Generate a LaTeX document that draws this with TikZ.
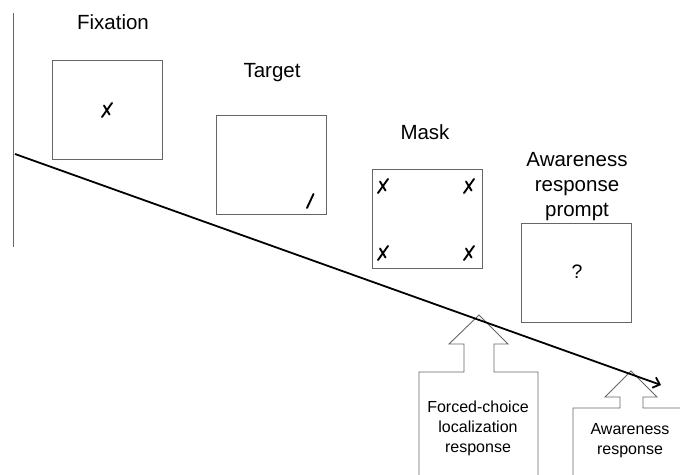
\documentclass[tikz,border=0pt]{standalone}
\usepackage{fontspec}
\setmainfont{Liberation Sans}
\usetikzlibrary{arrows.meta}

\tikzset{
    xsign/.pic={
        \draw[xmark] (-5,7) -- (5,-7);
        \draw[xmark] (-3,-4.5) -- (2.5,4.5);
    }
}

\begin{document}
\begin{tikzpicture}[
    x=1pt, y=-1pt,
    frame/.style={rectangle, draw=black!60, line width=0.9pt, minimum width=110pt, minimum height=99pt, inner sep=0pt},
    lbl/.style={font=\fontsize{20.5}{25}\selectfont, align=center, inner sep=0pt},
    resp/.style={font=\fontsize{16}{20}\selectfont, align=center, inner sep=0pt},
    blockarrow/.style={draw=black!60, line width=0.9pt, fill=white},
    xmark/.style={line width=1.9pt, line cap=round},
]
\clip (0,0) rectangle (680,474);

% Screens
\node[frame] (fix) at (107,109.5) {};
\node[frame] (target) at (271,164.5) {};
\node[frame] (mask) at (427,218.5) {};
\node[frame] (prompt) at (576.5,272.5) {};

% Labels
\node[lbl] (fixlbl) at (113,22) {Fixation};
\node[lbl] (targetlbl) at (272,73) {Target};
\node[lbl] (masklbl) at (425,132) {Mask};
\node[lbl] (promptlbl) at (577,187) {Awareness\\response\\prompt};

% Stimuli
\pic at (107,110) {xsign};
\draw[xmark] (307,208) -- (313.5,194);
\pic at (383,186) {xsign};
\pic at (469,186) {xsign};
\pic at (383,253) {xsign};
\pic at (469,253) {xsign};
\node[font=\fontsize{19.5}{20}\selectfont, inner sep=0pt] (qmark) at (577,272) {?};

% Response arrows
\draw[blockarrow] (419,480) -- (419,372) -- (464,372) -- (464,344) -- (449,344)
    -- (479,315) -- (508,344) -- (494,344) -- (494,372) -- (538,372) -- (538,480);
\node[resp] (fcresp) at (478,428) {Forced-choice\\localization\\response};

\draw[blockarrow] (573,480) -- (573,408) -- (620,408) -- (620,397) -- (605,397)
    -- (631,371) -- (657,397) -- (643,397) -- (643,408) -- (690,408) -- (690,480);
\node[resp] (awresp) at (630,440.5) {Awareness\\response};

% Axis and timeline
\coordinate (axtop) at (13,13);
\coordinate (axbot) at (13,247);
\draw[draw=black!60, line width=0.9pt] (axtop) -- (axbot);

\coordinate (tstart) at (15,154);
\coordinate (tend) at (661,385);
\draw[line width=1.8pt, -{Straight Barb[length=6pt,width=11pt]}] (tstart) -- (tend);

\end{tikzpicture}
\end{document}
